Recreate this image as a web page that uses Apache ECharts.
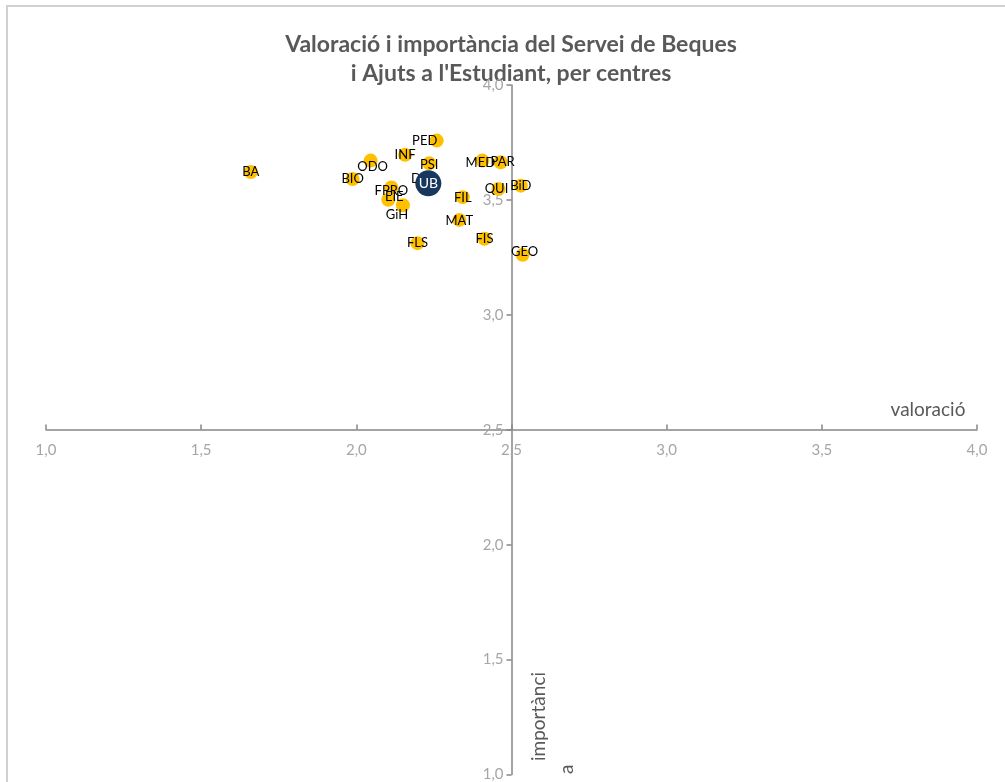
<!DOCTYPE html>
<html>
<head>
<meta charset="utf-8">
<script src="https://cdn.jsdelivr.net/npm/echarts@6/dist/echarts.min.js"></script>
<style>
html,body{margin:0;padding:0;background:#fff;}
#chart{width:1005px;height:782px;}
</style>
</head>
<body>
<div id="chart"></div>
<script>
// ---- data ----
const centres = ['BA','PED','INF','ODO','BIO','PSI','DRE','MED','PAR','BiD','QUI','FIL','FPRO','EIE','GiH','MAT','FLS','FIS','GEO'];
const valoracio = [1.660,2.259,2.157,2.046,1.988,2.235,2.23,2.406,2.465,2.530,2.458,2.343,2.113,2.103,2.150,2.332,2.197,2.413,2.536];
const importancia = [3.621,3.758,3.696,3.671,3.591,3.659,3.58,3.671,3.664,3.562,3.548,3.512,3.554,3.501,3.477,3.413,3.312,3.331,3.261];
const totalName = ['UB'];
const totalValoracio = [2.232];
const totalImportancia = [3.572];
const axisTicks = [1.0,1.5,2.0,2.5,3.0,3.5,4.0];
const crossX = 2.5, crossY = 2.5;

// ---- label style tweaks (pixel offsets, style only) ----
const labelOffsets = {PED:[-12,0], ODO:[2,6], PSI:[0,1], DRE:[-4,-3], MED:[-2,2], PAR:[2,0], QUI:[-2,0], FIL:[0,1], FPRO:[0,3], EIE:[6,-3], GiH:[-6,10], MAT:[0,1], GEO:[2,-3]};

const W = 1005, H = 782;
const grid = {left:46, right:28, top:85, bottom:7};
const gw = W - grid.left - grid.right, gh = H - grid.top - grid.bottom;
const aMin = axisTicks[0], aMax = axisTicks[axisTicks.length-1];
const xOffset = -((crossY - aMin)/(aMax - aMin))*gh;
const yOffset = -((crossX - aMin)/(aMax - aMin))*gw;

const fmt = v => v.toFixed(1).replace('.', ',');
const axisCommon = {
  type:'value', min:aMin, max:aMax, interval:0.5,
  splitLine:{show:false},
  axisLine:{show:true, onZero:false, lineStyle:{color:'#868686', width:1.5}},
  axisTick:{show:true, length:5, lineStyle:{color:'#868686', width:1.5}},
  axisLabel:{color:'#a6a6a6', fontFamily:'Lato', fontSize:15, formatter:fmt}
};

const yellowData = centres.map((n,i)=>({name:n, value:[valoracio[i], importancia[i]]}));
const totalData = totalName.map((n,i)=>({name:n, value:[totalValoracio[i], totalImportancia[i]]}));

const chart = echarts.init(document.getElementById('chart'), null, {renderer:'canvas'});
chart.setOption({
  animation:false,
  backgroundColor:'#fff',
  grid:grid,
  xAxis:Object.assign({}, axisCommon, {
    position:'bottom', offset:xOffset,
    axisTick:{show:true, inside:true, length:5, lineStyle:{color:'#868686', width:1.5}},
    axisLabel:Object.assign({}, axisCommon.axisLabel, {margin:13})
  }),
  yAxis:Object.assign({}, axisCommon, {
    position:'left', offset:yOffset,
    axisLabel:Object.assign({}, axisCommon.axisLabel, {margin:8})
  }),
  graphic:[
    {type:'rect', shape:{x:7, y:6, width:1100, height:900}, style:{fill:'none', stroke:'#d0d0d0', lineWidth:2}, silent:true, z:-10},
    {type:'text', x:511, y:45, style:{text:'Valoració i importància del Servei de Beques', font:'bold 23px Lato', fill:'#595959', textAlign:'center', textVerticalAlign:'middle'}},
    {type:'text', x:511, y:74, style:{text:"i Ajuts a l'Estudiant, per centres", font:'bold 23px Lato', fill:'#595959', textAlign:'center', textVerticalAlign:'middle'}},
    {type:'text', x:928, y:410, style:{text:'valoració', font:'19px Lato', fill:'#595959', textAlign:'center', textVerticalAlign:'middle'}},
    {type:'text', x:539, y:761, rotation:Math.PI/2, style:{text:'importànci', font:'19px Lato', fill:'#595959', textAlign:'left', textVerticalAlign:'middle'}},
    {type:'text', x:567, y:774, rotation:Math.PI/2, style:{text:'a', font:'19px Lato', fill:'#595959', textAlign:'left', textVerticalAlign:'middle'}}
  ],
  series:[
    {
      type:'scatter', z:2, symbol:'circle', symbolSize:14,
      itemStyle:{color:'#FFC000', opacity:1},
      label:{show:true, position:'inside', formatter:'{b}', color:'#000', fontFamily:'Lato', fontSize:13},
      labelLayout:function(p){
        const o = labelOffsets[centres[p.dataIndex]] || [0,0];
        return {dx:o[0], dy:o[1], hideOverlap:false};
      },
      data:yellowData
    },
    {
      type:'scatter', z:5, symbol:'circle', symbolSize:26,
      itemStyle:{color:'#17375E', opacity:1},
      label:{show:true, position:'inside', formatter:'{b}', color:'#fff', fontFamily:'Lato', fontSize:14},
      data:totalData
    }
  ]
});
</script>
</body>
</html>
